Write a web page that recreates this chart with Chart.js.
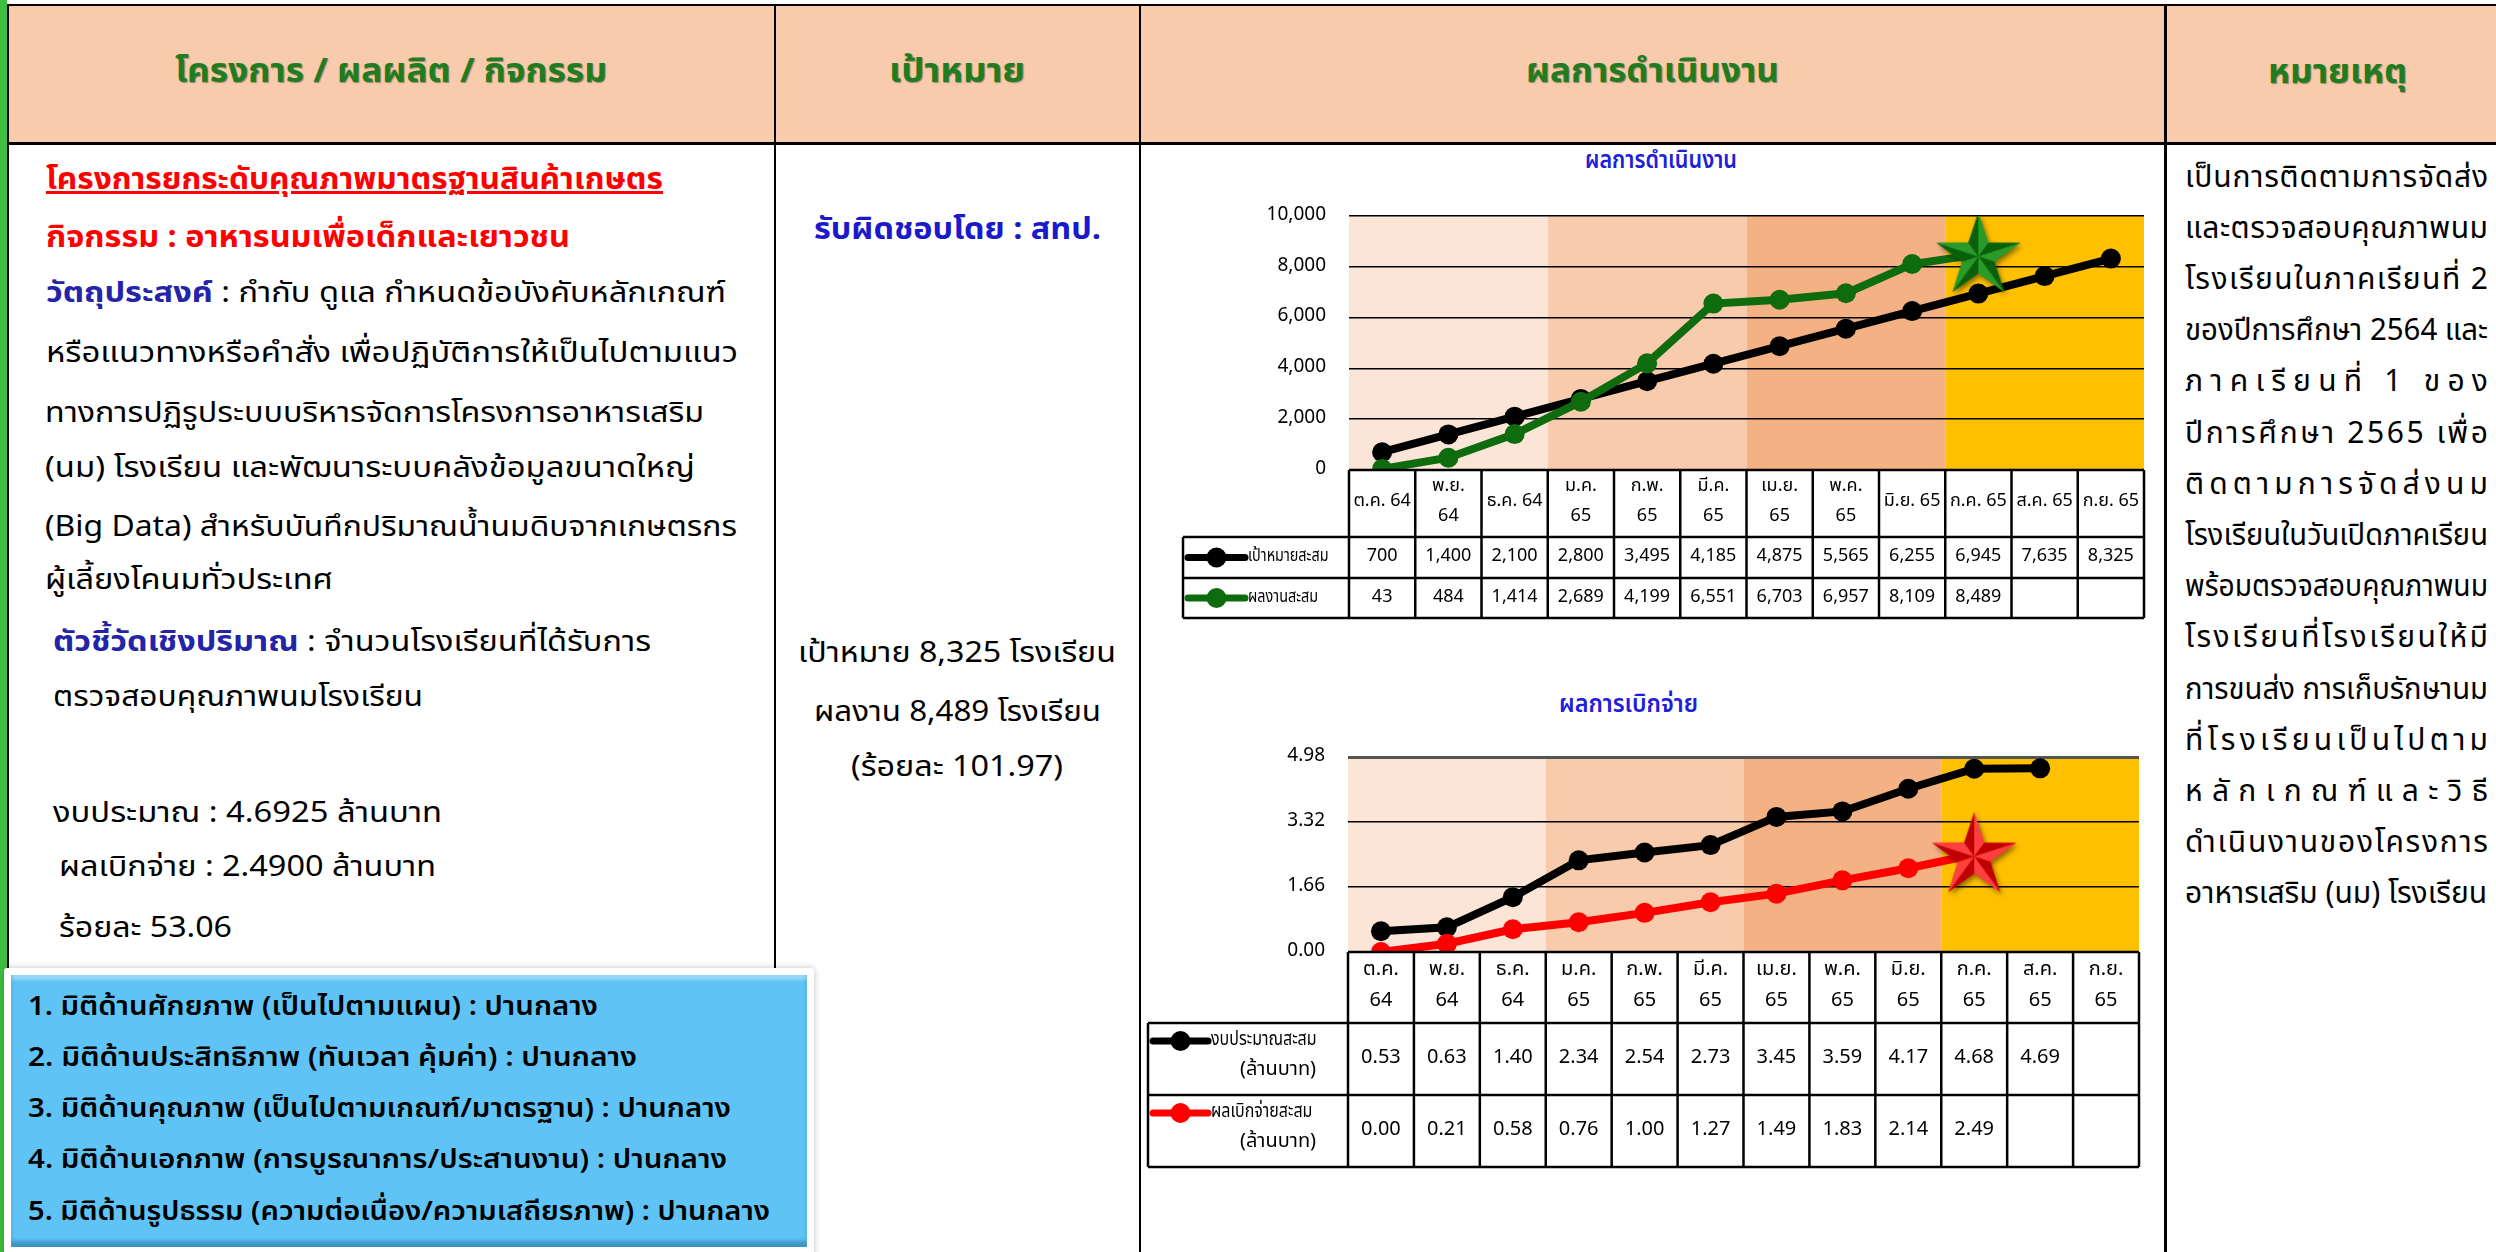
<!DOCTYPE html>
<html>
<head>
<meta charset="utf-8">
<script src="https://cdn.jsdelivr.net/npm/chart.js@4.4.1/dist/chart.umd.min.js"></script>
<style>
body{margin:0;width:2496px;height:1252px;overflow:hidden;background:#fff;position:relative;font-family:"Noto Sans Thai","Noto Sans",sans-serif;}
.b{position:absolute;background:#000;}
.t,.j{position:absolute;white-space:nowrap;transform-origin:0 50%;line-height:1.4;}
.hd{color:#1f7d1f;font-weight:bold;font-size:34px;text-shadow:1px 1px 1px rgba(0,0,0,.35);}
.bx{font-size:27px;font-weight:600;color:#000;}
canvas{position:absolute;}
</style>
</head>
<body>
<!-- frame -->
<div style="position:absolute;left:0;top:0;width:7px;height:1252px;background:#3fbf3f;"></div>
<div style="position:absolute;left:8px;top:5px;width:2488px;height:138px;background:#F8CBAD;"></div>
<div class="b" style="left:8px;top:4px;width:2488px;height:2px;"></div>
<div class="b" style="left:8px;top:142px;width:2488px;height:3px;"></div>
<div class="b" style="left:7px;top:4px;width:2px;height:1248px;"></div>
<div class="b" style="left:774px;top:4px;width:2px;height:1248px;"></div>
<div class="b" style="left:1139px;top:4px;width:2px;height:1248px;"></div>
<div class="b" style="left:2164px;top:4px;width:3px;height:1248px;"></div>

<!-- header -->
<div class="t hd" data-x="391" data-y="72" data-w="432" data-a="c">โครงการ / ผลผลิต / กิจกรรม</div>
<div class="t hd" data-x="957" data-y="72" data-w="136" data-a="c">เป้าหมาย</div>
<div class="t hd" data-x="1652" data-y="72" data-w="253" data-a="c">ผลการดำเนินงาน</div>
<div class="t hd" data-x="2337" data-y="73" data-w="139" data-a="c">หมายเหตุ</div>

<!-- column 1 -->
<div class="t" style="font-size:30px;font-weight:bold;color:#ff0000;text-decoration:underline;" data-x="46" data-y="180" data-w="617">โครงการยกระดับคุณภาพมาตรฐานสินค้าเกษตร</div>
<div class="t" style="font-size:30px;font-weight:bold;color:#ff0000;" data-x="46" data-y="238" data-w="524">กิจกรรม : อาหารนมเพื่อเด็กและเยาวชน</div>
<div class="t" style="font-size:29px;" data-x="46" data-y="293" data-w="680"><b style="color:#2424a8">วัตถุประสงค์</b> : กำกับ ดูแล กำหนดข้อบังคับหลักเกณฑ์</div>
<div class="t" style="font-size:29px;" data-x="46" data-y="353" data-w="692">หรือแนวทางหรือคำสั่ง เพื่อปฏิบัติการให้เป็นไปตามแนว</div>
<div class="t" style="font-size:29px;" data-x="45" data-y="413" data-w="659">ทางการปฏิรูประบบบริหารจัดการโครงการอาหารเสริม</div>
<div class="t" style="font-size:29px;" data-x="45" data-y="468" data-w="650">(นม) โรงเรียน และพัฒนาระบบคลังข้อมูลขนาดใหญ่</div>
<div class="t" style="font-size:29px;" data-x="45" data-y="527" data-w="692">(Big Data) สำหรับบันทึกปริมาณน้ำนมดิบจากเกษตรกร</div>
<div class="t" style="font-size:29px;" data-x="45" data-y="580" data-w="288">ผู้เลี้ยงโคนมทั่วประเทศ</div>
<div class="t" style="font-size:29px;" data-x="53" data-y="642" data-w="598"><b style="color:#2424a8">ตัวชี้วัดเชิงปริมาณ</b> : จำนวนโรงเรียนที่ได้รับการ</div>
<div class="t" style="font-size:29px;" data-x="53" data-y="697" data-w="370">ตรวจสอบคุณภาพนมโรงเรียน</div>
<div class="t" style="font-size:29px;" data-x="53" data-y="813" data-w="389">งบประมาณ : 4.6925 ล้านบาท</div>
<div class="t" style="font-size:29px;" data-x="59" data-y="867" data-w="377">ผลเบิกจ่าย : 2.4900 ล้านบาท</div>
<div class="t" style="font-size:29px;" data-x="59" data-y="928" data-w="173">ร้อยละ 53.06</div>

<!-- blue box -->
<div style="position:absolute;left:4px;top:968px;width:810px;height:290px;background:#fff;box-shadow:0 0 6px rgba(0,0,0,.25);border-radius:3px;"></div>
<div style="position:absolute;left:11px;top:975px;width:796px;height:272px;background:#5fc4f5;box-shadow:inset 0 -6px 4px rgba(20,90,140,.45), inset 0 5px 3px rgba(255,255,255,.35);"></div>
<div class="t bx" data-x="28" data-y="1007" data-w="570">1. มิติด้านศักยภาพ (เป็นไปตามแผน) : ปานกลาง</div>
<div class="t bx" data-x="28" data-y="1058" data-w="609">2. มิติด้านประสิทธิภาพ (ทันเวลา คุ้มค่า) : ปานกลาง</div>
<div class="t bx" data-x="28" data-y="1109" data-w="703">3. มิติด้านคุณภาพ (เป็นไปตามเกณฑ์/มาตรฐาน) : ปานกลาง</div>
<div class="t bx" data-x="28" data-y="1160" data-w="699">4. มิติด้านเอกภาพ (การบูรณาการ/ประสานงาน) : ปานกลาง</div>
<div class="t bx" data-x="28" data-y="1212" data-w="742">5. มิติด้านรูปธรรม (ความต่อเนื่อง/ความเสถียรภาพ) : ปานกลาง</div>

<!-- column 2 -->
<div class="t" style="font-size:30px;font-weight:bold;color:#1a1acc;" data-x="957" data-y="230" data-w="287" data-a="c">รับผิดชอบโดย : สทป.</div>
<div class="t" style="font-size:29px;" data-x="957" data-y="653" data-w="318" data-a="c">เป้าหมาย 8,325 โรงเรียน</div>
<div class="t" style="font-size:29px;" data-x="957" data-y="712" data-w="287" data-a="c">ผลงาน 8,489 โรงเรียน</div>
<div class="t" style="font-size:29px;" data-x="957" data-y="767" data-w="212" data-a="c">(ร้อยละ 101.97)</div>

<!-- chart titles -->
<div class="t" style="font-size:24px;font-weight:600;color:#2020d8;" data-x="1661" data-y="162" data-w="152" data-a="c">ผลการดำเนินงาน</div>
<div class="t" style="font-size:24px;font-weight:600;color:#2020d8;" data-x="1628" data-y="706" data-w="139" data-a="c">ผลการเบิกจ่าย</div>

<!-- column 4 -->
<div class="j" style="font-size:30px;" data-y="178">เป็นการติดตามการจัดส่ง</div>
<div class="j" style="font-size:30px;" data-y="229">และตรวจสอบคุณภาพนม</div>
<div class="j" style="font-size:30px;" data-y="280">โรงเรียนในภาคเรียนที่ 2</div>
<div class="j" style="font-size:30px;" data-y="331">ของปีการศึกษา 2564 และ</div>
<div class="j" style="font-size:30px;" data-y="382">ภาคเรียนที่ 1 ของ</div>
<div class="j" style="font-size:30px;" data-y="434">ปีการศึกษา 2565 เพื่อ</div>
<div class="j" style="font-size:30px;" data-y="485">ติดตามการจัดส่งนม</div>
<div class="j" style="font-size:30px;" data-y="536">โรงเรียนในวันเปิดภาคเรียน</div>
<div class="j" style="font-size:30px;" data-y="587">พร้อมตรวจสอบคุณภาพนม</div>
<div class="j" style="font-size:30px;" data-y="638">โรงเรียนที่โรงเรียนให้มี</div>
<div class="j" style="font-size:30px;" data-y="690">การขนส่ง การเก็บรักษานม</div>
<div class="j" style="font-size:30px;" data-y="741">ที่โรงเรียนเป็นไปตาม</div>
<div class="j" style="font-size:30px;" data-y="792">หลักเกณฑ์และวิธี</div>
<div class="j" style="font-size:30px;" data-y="843">ดำเนินงานของโครงการ</div>
<div class="j" style="font-size:30px;" data-y="894" data-last="1">อาหารเสริม (นม) โรงเรียน</div>

<canvas id="c1" width="1024" height="520" style="left:1141px;top:146px;"></canvas>
<canvas id="c2" width="1024" height="520" style="left:1141px;top:680px;"></canvas>

<script>
// ---- data ----
const monthRows1 = [['ต.ค. 64'], ['พ.ย.', '64'], ['ธ.ค. 64'], ['ม.ค.', '65'], ['ก.พ.', '65'], ['มี.ค.', '65'],
  ['เม.ย.', '65'], ['พ.ค.', '65'], ['มิ.ย. 65'], ['ก.ค. 65'], ['ส.ค. 65'], ['ก.ย. 65']];
const monthRows2 = [['ต.ค.', '64'], ['พ.ย.', '64'], ['ธ.ค.', '64'], ['ม.ค.', '65'], ['ก.พ.', '65'], ['มี.ค.', '65'],
  ['เม.ย.', '65'], ['พ.ค.', '65'], ['มิ.ย.', '65'], ['ก.ค.', '65'], ['ส.ค.', '65'], ['ก.ย.', '65']];
const targetCum = [700, 1400, 2100, 2800, 3495, 4185, 4875, 5565, 6255, 6945, 7635, 8325];
const resultCum = [43, 484, 1414, 2689, 4199, 6551, 6703, 6957, 8109, 8489];
const budgetCum = [0.53, 0.63, 1.40, 2.34, 2.54, 2.73, 3.45, 3.59, 4.17, 4.68, 4.69];
const spentCum = [0.00, 0.21, 0.58, 0.76, 1.00, 1.27, 1.49, 1.83, 2.14, 2.49];
const yTicks1 = [0, 2000, 4000, 6000, 8000, 10000];
const yTicks2 = [0, 1.66, 3.32, 4.98];
const quarters = [[0, 2], [3, 5], [6, 8], [9, 11]];
const starIndex = 9;

const quarterColors = ['#FBE5D6', '#F8CBAD', '#F4B183', '#FFC000'];
const FONT = '"Noto Sans Thai","Noto Sans",sans-serif';

// ---- text fitting ----
document.querySelectorAll('.t').forEach(el => {
  const r = el.getBoundingClientRect();
  const x = +el.dataset.x, y = +el.dataset.y, w = +el.dataset.w;
  el.style.top = (y - r.height / 2) + 'px';
  el.style.left = (el.dataset.a === 'c' ? x - w / 2 : x) + 'px';
  el.style.transform = 'scaleX(' + (w / r.width) + ')';
});
const seg = new Intl.Segmenter('th', {granularity: 'grapheme'});
document.querySelectorAll('.j').forEach(el => {
  const W = 303;
  const r = el.getBoundingClientRect();
  el.style.top = (+el.dataset.y - r.height / 2) + 'px';
  el.style.left = '2185px';
  const n = [...seg.segment(el.textContent)].length;
  if (r.width > W) {
    el.style.transform = 'scaleX(' + (W / r.width) + ')';
  } else if (!el.dataset.last) {
    el.style.letterSpacing = ((W - r.width) / (n - 1)) + 'px';
  }
});

// ---- star marker ----
function makeStar(light, mid, dark) {
  const c = document.createElement('canvas');
  c.width = 96; c.height = 96;
  const g = c.getContext('2d');
  const cx = 48, cy = 50, R = 44, r = 17;
  g.shadowColor = 'rgba(0,0,0,0.45)';
  g.shadowBlur = 5; g.shadowOffsetX = 2; g.shadowOffsetY = 3;
  g.beginPath();
  for (let i = 0; i < 10; i++) {
    const a = -Math.PI / 2 + i * Math.PI / 5;
    const rr = i % 2 ? r : R;
    g.lineTo(cx + rr * Math.cos(a), cy + rr * Math.sin(a));
  }
  g.closePath();
  g.fillStyle = mid; g.fill();
  g.shadowColor = 'transparent';
  for (let i = 0; i < 10; i++) {
    const a1 = -Math.PI / 2 + i * Math.PI / 5;
    const a2 = -Math.PI / 2 + (i + 1) * Math.PI / 5;
    const r1 = i % 2 ? r : R, r2 = i % 2 ? R : r;
    g.beginPath();
    g.moveTo(cx, cy);
    g.lineTo(cx + r1 * Math.cos(a1), cy + r1 * Math.sin(a1));
    g.lineTo(cx + r2 * Math.cos(a2), cy + r2 * Math.sin(a2));
    g.closePath();
    g.fillStyle = i % 2 ? dark : light;
    g.fill();
  }
  return c;
}
const greenStar = makeStar('#2a9a2a', '#168516', '#0a600a');
const redStar = makeStar('#ff4040', '#ee1010', '#c00000');

// ---- plugins ----
const bandPlugin = {
  id: 'bands',
  beforeDraw(chart) {
    const {ctx, chartArea: a, scales: {x}} = chart;
    const w = (a.right - a.left) / chart.data.labels.length;
    ctx.save();
    quarters.forEach((q, i) => {
      const x0 = x.getPixelForValue(q[0]) - w / 2;
      const x1 = x.getPixelForValue(q[1]) + w / 2;
      ctx.fillStyle = quarterColors[i];
      ctx.fillRect(x0, a.top, x1 - x0, a.bottom - a.top);
    });
    ctx.restore();
  }
};

const tablePlugin = {
  id: 'dataTable',
  afterDraw(chart, args, o) {
    const {ctx, chartArea: a, scales: {x}} = chart;
    const labels = chart.data.labels;
    const n = labels.length;
    const w = (a.right - a.left) / n;
    const lx = a.left - o.legendW;
    ctx.save();
    ctx.fillStyle = '#000';
    ctx.strokeStyle = '#000';
    ctx.lineWidth = 2.5;
    ctx.font = o.fontSize + 'px ' + FONT;
    ctx.textBaseline = 'middle';
    ctx.textAlign = 'center';
    let y = a.bottom;
    const bottom = a.bottom + o.rowH.reduce((s, h) => s + h, 0);
    // month row
    const h0 = o.rowH[0];
    labels.forEach((lab, i) => {
      const cx = x.getPixelForValue(i);
      if (lab.length === 1) ctx.fillText(lab[0], cx, y + h0 * 0.48);
      else { ctx.fillText(lab[0], cx, y + h0 * 0.26); ctx.fillText(lab[1], cx, y + h0 * 0.7); }
    });
    ctx.beginPath();
    ctx.moveTo(a.left, y); ctx.lineTo(a.right, y);
    for (let i = 0; i <= n; i++) {
      ctx.moveTo(a.left + i * w, y); ctx.lineTo(a.left + i * w, bottom);
    }
    y += h0;
    o.rows.forEach((row, k) => {
      const h = o.rowH[k + 1];
      const ds = chart.data.datasets[row.ds];
      ctx.moveTo(lx, y); ctx.lineTo(a.right, y);
      ds.data.forEach((v, i) => {
        ctx.fillText(o.fmt(v), x.getPixelForValue(i), y + h / 2);
      });
      y += h;
    });
    ctx.moveTo(lx, y); ctx.lineTo(a.right, y);
    ctx.moveTo(lx, a.bottom + h0); ctx.lineTo(lx, y);
    ctx.stroke();
    // legend keys
    y = a.bottom + h0;
    o.rows.forEach((row, k) => {
      const h = o.rowH[k + 1];
      const ds = chart.data.datasets[row.ds];
      const ky = row.label.length === 1 ? y + h / 2 : y + h * 0.25;
      const k0 = lx + 5, k1 = lx + o.keyW;
      ctx.strokeStyle = ds.borderColor;
      ctx.lineWidth = 7;
      ctx.lineCap = 'round';
      ctx.beginPath(); ctx.moveTo(k0, ky); ctx.lineTo(k1, ky); ctx.stroke();
      ctx.fillStyle = ds.borderColor;
      ctx.beginPath(); ctx.arc((k0 + k1) / 2, ky, 10, 0, Math.PI * 2); ctx.fill();
      ctx.fillStyle = '#000';
      ctx.save();
      ctx.translate(k1 + 3, ky);
      ctx.scale(0.8, 1);
      ctx.textAlign = 'left';
      ctx.fillText(row.label[0], 0, 0);
      ctx.restore();
      if (row.label.length > 1) {
        ctx.fillText(row.label[1], (k1 + a.left) / 2, y + h * 0.66);
      }
      y += h;
    });
    ctx.restore();
  }
};

function lineDs(data, color, star, order) {
  return {
    data: data,
    borderColor: color,
    backgroundColor: color,
    borderWidth: 8,
    pointRadius: 10,
    pointHoverRadius: 10,
    pointBorderWidth: 0,
    pointStyle: c => (star && c.dataIndex === starIndex) ? star : 'circle',
    order: order
  };
}

function baseOptions(ticks, fmt, pad, yW, topGrid) {
  return {
    responsive: false,
    animation: false,
    layout: {padding: pad},
    plugins: {legend: {display: false}, tooltip: {enabled: false}},
    scales: {
      x: {display: false, offset: true},
      y: {
        min: ticks[0], max: ticks[ticks.length - 1],
        afterBuildTicks: s => { s.ticks = ticks.map(v => ({value: v})); },
        afterFit: s => { s.width = yW; },
        border: {display: false},
        grid: {
          drawTicks: false,
          color: c => (c.index === ticks.length - 1 && topGrid) ? topGrid : '#000',
          lineWidth: c => (c.index === ticks.length - 1 && topGrid) ? 3 : 1.5
        },
        ticks: {padding: 23, color: '#000', font: {family: FONT, size: 19}, callback: v => fmt(v)}
      }
    }
  };
}

const fmt1 = v => v.toLocaleString('en-US');
const fmt2 = v => v.toFixed(2);

const opt1 = baseOptions(yTicks1, fmt1, {left: 0, right: 21, top: 70, bottom: 196}, 208, null);
opt1.plugins.dataTable = {
  legendW: 166, keyW: 62, fontSize: 18, rowH: [67, 41, 40], fmt: fmt1,
  rows: [{ds: 1, label: ['เป้าหมายสะสม']}, {ds: 0, label: ['ผลงานสะสม']}]
};
new Chart(document.getElementById('c1'), {
  type: 'line',
  data: {
    labels: monthRows1,
    datasets: [lineDs(resultCum, '#0e6b0e', greenStar, 0), lineDs(targetCum, '#000000', null, 1)]
  },
  options: opt1,
  plugins: [bandPlugin, tablePlugin]
});

const opt2 = baseOptions(yTicks2, fmt2, {left: 0, right: 26, top: 77, bottom: 248}, 207, '#555');
opt2.plugins.dataTable = {
  legendW: 200, keyW: 60, fontSize: 20, rowH: [71, 72, 72], fmt: fmt2,
  rows: [{ds: 1, label: ['งบประมาณสะสม', '(ล้านบาท)']}, {ds: 0, label: ['ผลเบิกจ่ายสะสม', '(ล้านบาท)']}]
};
new Chart(document.getElementById('c2'), {
  type: 'line',
  data: {
    labels: monthRows2,
    datasets: [lineDs(spentCum, '#ff0000', redStar, 0), lineDs(budgetCum, '#000000', null, 1)]
  },
  options: opt2,
  plugins: [bandPlugin, tablePlugin]
});
</script>
</body>
</html>
